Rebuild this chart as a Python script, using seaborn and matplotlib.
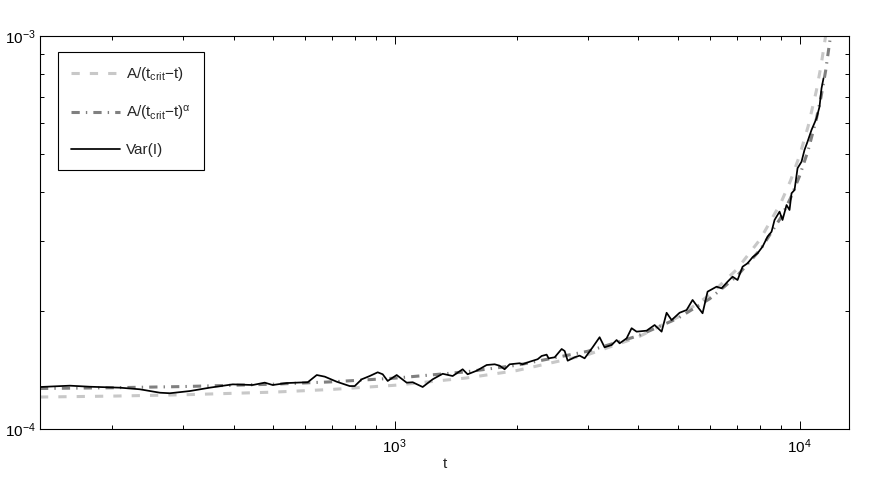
import numpy as np
import pandas as pd
import matplotlib
matplotlib.use("Agg")
import matplotlib.pyplot as plt
import seaborn as sns
from matplotlib.ticker import LogLocator, NullFormatter, LogFormatterSciNotation

# ---- data ----
fit_t = [133, 200, 300, 500, 700, 1000, 1500, 2000, 3000, 4000, 5000, 6000, 7000,
         8000, 9000, 9500, 10000, 10500, 11000, 11300, 11600, 11900, 12000]
fit1_v = [1.206e-4, 1.2125e-4, 1.222e-4, 1.241e-4, 1.261e-4, 1.292e-4, 1.348e-4,
          1.408e-4, 1.546e-4, 1.715e-4, 1.925e-4, 2.193e-4, 2.548e-4, 3.041e-4,
          3.769e-4, 4.283e-4, 4.957e-4, 5.885e-4, 7.239e-4, 8.398e-4, 1.0e-3,
          1.32e-3, 1.45e-3]
fit2_v = [1.268e-4, 1.2735e-4, 1.2823e-4, 1.3001e-4, 1.3184e-4, 1.347e-4, 1.3977e-4,
          1.4526e-4, 1.577e-4, 1.7276e-4, 1.912e-4, 2.145e-4, 2.448e-4, 2.861e-4,
          3.456e-4, 3.866e-4, 4.40e-4, 5.114e-4, 6.136e-4, 6.994e-4, 8.15e-4,
          9.82e-4, 1.056e-3]

var_t = [133, 157.6, 176.6, 209.4, 234.6, 262.9, 278.3, 311.8, 349.3, 398.1, 446.0,
         477.5, 499.6, 541.2, 582.6, 609.8, 641.9, 671.8, 719.4, 774.3, 796.6, 828.9,
         867.6, 907.8, 934.1, 961.0, 1011.4, 1070.6, 1107.8, 1172.6, 1241.2, 1313.8,
         1390.6, 1471.8, 1514.2, 1594.0, 1687.4, 1765.9, 1816.0, 1868.7, 1923.0,
         2035.4, 2070.4, 2154.4, 2254.8, 2306.7, 2373.2, 2400.2, 2484, 2584.7, 2629.7,
         2674.9, 2782.6, 2862.9, 2945.4, 3082.8, 3207.5, 3299.8, 3434.0, 3532.9,
         3594.5, 3739.9, 3847.8, 3958.6, 4190.1, 4385.6, 4564.0, 4695.3, 4830.9,
         5055.1, 5260.5, 5442.9, 5599.4, 5761.3, 5927.2, 6238.3, 6418.0, 6640.6,
         6832.4, 7029.7, 7232.9, 7440.9, 7655.9, 7876.2, 8102.8, 8336.8, 8529.0,
         8675.6, 8925.4, 9078.0, 9288.6, 9447.5, 9555.6, 9720, 9887.3, 10114, 10287,
         10466, 10706, 11015, 11204, 11333, 11397, 11462]
var_v = [1.279e-4, 1.289e-4, 1.281e-4, 1.274e-4, 1.262e-4, 1.237e-4, 1.233e-4,
         1.249e-4, 1.274e-4, 1.299e-4, 1.294e-4, 1.312e-4, 1.294e-4, 1.309e-4,
         1.313e-4, 1.315e-4, 1.372e-4, 1.359e-4, 1.319e-4, 1.286e-4, 1.286e-4,
         1.338e-4, 1.364e-4, 1.394e-4, 1.378e-4, 1.325e-4, 1.372e-4, 1.312e-4,
         1.315e-4, 1.279e-4, 1.338e-4, 1.382e-4, 1.364e-4, 1.419e-4, 1.378e-4,
         1.407e-4, 1.455e-4, 1.461e-4, 1.449e-4, 1.419e-4, 1.461e-4, 1.470e-4,
         1.461e-4, 1.483e-4, 1.505e-4, 1.534e-4, 1.546e-4, 1.513e-4, 1.522e-4,
         1.598e-4, 1.579e-4, 1.492e-4, 1.522e-4, 1.537e-4, 1.513e-4, 1.614e-4,
         1.712e-4, 1.614e-4, 1.636e-4, 1.684e-4, 1.652e-4, 1.701e-4, 1.805e-4,
         1.769e-4, 1.779e-4, 1.839e-4, 1.769e-4, 1.976e-4, 1.893e-4, 1.976e-4,
         2.008e-4, 2.130e-4, 2.047e-4, 1.970e-4, 2.236e-4, 2.302e-4, 2.280e-4,
         2.370e-4, 2.441e-4, 2.394e-4, 2.588e-4, 2.640e-4, 2.735e-4, 2.800e-4,
         2.910e-4, 3.086e-4, 3.177e-4, 3.403e-4, 3.573e-4, 3.403e-4, 3.715e-4,
         3.608e-4, 3.979e-4, 4.057e-4, 4.607e-4, 4.788e-4, 5.129e-4, 5.383e-4,
         5.767e-4, 6.175e-4, 6.607e-4, 7.361e-4, 7.580e-4, 7.806e-4]

labels = [r"A/(t$_{\mathrm{crit}}$$-$t)", r"A/(t$_{\mathrm{crit}}$$-$t)$^{\alpha}$", "Var(I)"]

# ---- style ----
sns.set_style("white")
plt.rcParams["font.family"] = ["Liberation Sans", "DejaVu Sans"]
plt.rcParams["mathtext.fontset"] = "custom"
plt.rcParams["mathtext.rm"] = "Liberation Sans"
plt.rcParams["mathtext.it"] = "Liberation Sans"
plt.rcParams["mathtext.sf"] = "Liberation Sans"
plt.rcParams["mathtext.default"] = "regular"

fig = plt.figure(figsize=(8.72, 4.83), dpi=100)
ax = fig.add_axes([40 / 872, 1 - 429 / 483, 809 / 872, 393 / 483])

df1 = pd.DataFrame({"t": fit_t, "v": fit1_v})
df2 = pd.DataFrame({"t": fit_t, "v": fit2_v})
dfv = pd.DataFrame({"t": var_t, "v": var_v})

sns.lineplot(data=df1, x="t", y="v", ax=ax, color="#c8c8c8", linewidth=2.2,
             label=labels[0], estimator=None, sort=False)
ax.lines[-1].set_dashes((2.7, 3.3))
sns.lineplot(data=df2, x="t", y="v", ax=ax, color="#808080", linewidth=2.2,
             label=labels[1], estimator=None, sort=False)
ax.lines[-1].set_dashes((2.7, 2.0, 0.45, 2.0))
sns.lineplot(data=dfv, x="t", y="v", ax=ax, color="black", linewidth=1.25,
             label=labels[2], estimator=None, sort=False)

ax.set_xscale("log")
ax.set_yscale("log")
ax.set_xlim(133, 13250)
ax.set_ylim(1e-4, 1e-3)

ax.xaxis.set_major_locator(LogLocator(base=10))
ax.xaxis.set_minor_locator(LogLocator(base=10, subs=np.arange(2, 10)))
ax.yaxis.set_major_locator(LogLocator(base=10))
ax.yaxis.set_minor_locator(LogLocator(base=10, subs=np.arange(2, 10)))
ax.xaxis.set_major_formatter(LogFormatterSciNotation())
ax.yaxis.set_major_formatter(LogFormatterSciNotation())
ax.xaxis.set_minor_formatter(NullFormatter())
ax.yaxis.set_minor_formatter(NullFormatter())

ax.tick_params(which="both", direction="in", bottom=True, left=True, top=True,
               right=True, colors="black", width=0.7, labelsize=11)
ax.tick_params(which="major", length=6)
ax.tick_params(which="minor", length=3)
ax.tick_params(axis="x", pad=6)
ax.tick_params(axis="y", pad=3)
for s in ax.spines.values():
    s.set_color("black")
    s.set_linewidth(0.8)

ax.set_xlabel("t", fontsize=11, labelpad=1)
ax.set_ylabel("")

leg = ax.legend(loc="upper left", bbox_to_anchor=(18 / 809, (429 - 52) / 393),
                borderaxespad=0, fontsize=11, frameon=True, fancybox=False,
                edgecolor="black", framealpha=1, handlelength=3.2,
                handletextpad=0.4, labelspacing=1.35, borderpad=0.85)
leg.get_frame().set_linewidth(0.8)

fig.savefig("out.png", dpi=100)
